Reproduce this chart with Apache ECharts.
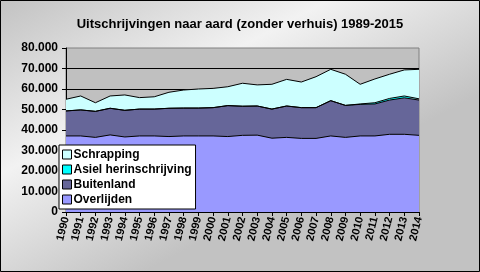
<!DOCTYPE html>
<html><head><meta charset="utf-8">
<script src="https://cdn.jsdelivr.net/npm/echarts@6/dist/echarts.min.js"></script>
<style>html,body{margin:0;padding:0;background:#fff}#c{width:480px;height:272px}</style>
</head><body><div id="c"></div>
<script>
const years = ['1990','1991','1992','1993','1994','1995','1996','1997','1998','1999','2000','2001','2002','2003','2004','2005','2006','2007','2008','2009','2010','2011','2012','2013','2014'];
const overlijden = [37100,37100,36400,37600,36600,37100,37100,36800,37100,37100,37100,36800,37400,37500,36000,36400,35900,35900,37100,36400,37100,37100,37900,37900,37400];
const buitenland = [12200,12700,12700,13000,13000,13100,13100,13800,13600,13600,13800,15100,14200,14200,14200,15300,15000,15000,17200,15600,15400,15600,16700,17800,17200];
const asiel = [0,0,0,0,0,0,0,0,0,0,0,0,0,0,0,0,0,0,0,0,200,600,800,900,600];
const schrapping = [5700,6800,4200,6000,7500,5600,6000,7800,8800,9300,9400,9200,11200,10300,12100,13000,12500,15100,15300,15200,9600,11600,11800,12700,14400];
const title = 'Uitschrijvingen naar aard (zonder verhuis) 1989-2015';

const chart = echarts.init(document.getElementById('c'), null, {renderer:'canvas'});
function mk(name, data, color){
  return {name, type:'line', stack:'t', data, symbol:'none', smooth:false,
    lineStyle:{color:'#000', width:1}, itemStyle:{color:color, borderColor:'#000', borderWidth:1},
    areaStyle:{color:color, opacity:1}, emphasis:{disabled:true}, z:2};
}
const fmt = v => v === 0 ? '0' : (v/1000).toFixed(0) + '.000';
chart.setOption({
  animation:false,
  backgroundColor:{type:'linear', x:0, y:0, x2:0.3, y2:1, colorStops:[
    {offset:0,color:'#c2c2c2'},{offset:0.5,color:'#f2f2f2'},{offset:1,color:'#c2c2c2'}]},
  title:{text:title, left:'center', top:13, textStyle:{fontFamily:'Liberation Sans', fontWeight:'bold', fontSize:13, color:'#000'}},
  grid:{left:66, right:61, top:48, bottom:60, show:true, backgroundColor:'#c0c0c0', borderColor:'#808080', borderWidth:1},
  legend:{orient:'vertical', left:59, top:145, data:['Schrapping','Asiel herinschrijving','Buitenland','Overlijden'],
    backgroundColor:'#fff', borderColor:'#000', borderWidth:1, padding:[3,4,3,3],
    itemWidth:9, itemHeight:9, itemGap:2, icon:'rect', selectedMode:false,
    textStyle:{fontFamily:'Liberation Sans', fontWeight:'bold', fontSize:12, color:'#000', lineHeight:13, padding:[0,0,0,-3]},
    itemStyle:{borderColor:'#000', borderWidth:1}},
  xAxis:{type:'category', data:years, boundaryGap:false,
    axisLine:{lineStyle:{color:'#000'}}, axisTick:{show:true, length:4, lineStyle:{color:'#000'}},
    axisLabel:{rotate:76, interval:0, margin:5, fontFamily:'Liberation Sans', fontWeight:'bold', fontSize:11, color:'#000'},
    splitLine:{show:false}},
  yAxis:{type:'value', min:0, max:80000, interval:10000,
    axisLine:{show:true, lineStyle:{color:'#000'}}, axisTick:{show:true, length:4, lineStyle:{color:'#000'}},
    axisLabel:{formatter:fmt, margin:8, fontFamily:'Liberation Sans', fontWeight:'bold', fontSize:12, color:'#000'},
    splitLine:{show:true, showMaxLine:false, lineStyle:{color:'#000', width:1}}},
  series:[
    mk('Overlijden', overlijden, '#9999ff'),
    mk('Buitenland', buitenland, '#666699'),
    mk('Asiel herinschrijving', asiel, '#00ffff'),
    mk('Schrapping', schrapping, '#ccffff')
  ],
  graphic:[{type:'rect', shape:{x:0.5,y:0.5,width:479,height:271}, style:{fill:null, stroke:'#000', lineWidth:1}, z:100}]
});
</script></body></html>
